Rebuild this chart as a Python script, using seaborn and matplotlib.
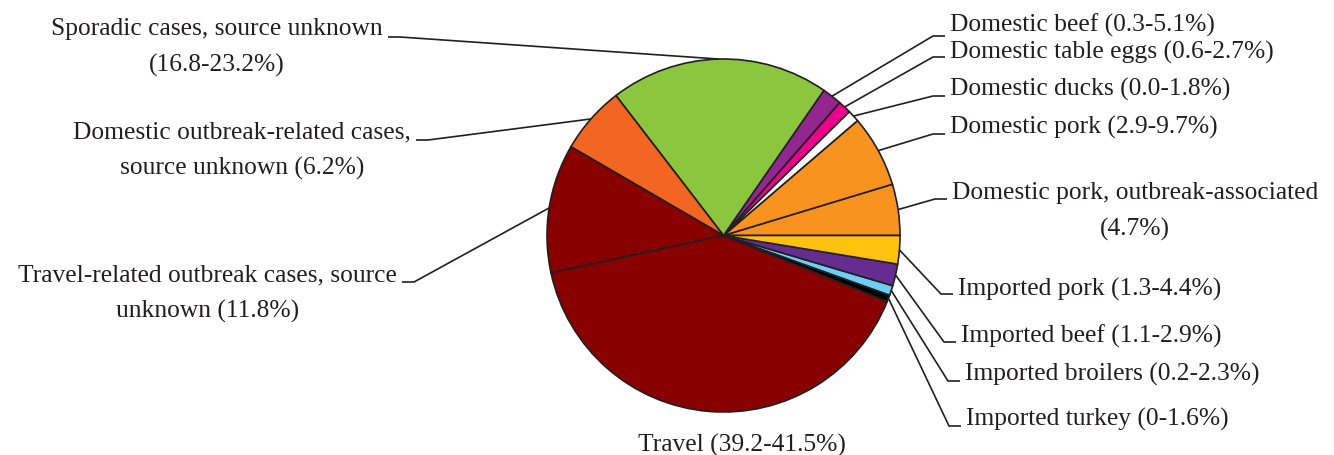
import numpy as np
import matplotlib
matplotlib.use('Agg')
import matplotlib.pyplot as plt
import seaborn as sns

# slice shares (%), counter-clockwise from 3 o'clock
sources = ['Domestic pork, outbreak-associated', 'Domestic pork', 'Domestic ducks',
           'Domestic table eggs', 'Domestic beef', 'Sporadic cases, source unknown',
           'Domestic outbreak-related cases, source unknown',
           'Travel-related outbreak cases, source unknown', 'Travel',
           'Imported turkey', 'Imported broilers', 'Imported beef', 'Imported pork']
shares = [4.7, 6.6, 1.1, 1.2, 1.8, 20.1, 6.2, 11.8, 40.6, 0.6, 0.9, 2.0, 2.6]
labels = ['Domestic pork, outbreak-associated\n(4.7%)',
          'Domestic pork (2.9-9.7%)',
          'Domestic ducks (0.0-1.8%)',
          'Domestic table eggs (0.6-2.7%)',
          'Domestic beef (0.3-5.1%)',
          'Sporadic cases, source unknown\n(16.8-23.2%)',
          'Domestic outbreak-related cases,\nsource unknown (6.2%)',
          'Travel-related outbreak cases, source\nunknown (11.8%)',
          'Travel (39.2-41.5%)',
          'Imported turkey (0-1.6%)',
          'Imported broilers (0.2-2.3%)',
          'Imported beef (1.1-2.9%)',
          'Imported pork (1.3-4.4%)']
colors = ['#F7931E', '#F7931E', '#FFFFFF', '#EC008C', '#93278F', '#8CC63F',
          '#F26522', '#880000', '#880000', '#000000', '#6DCFF6', '#662D91', '#FFC20E']

W, H = 1334, 456
CX, CY, R = 723.5, H - 236.5, 176.5

# label anchors in pixels (x, y from top), alignment
label_pos = [(952, 211.5, 'left'), (950, 127.5, 'left'), (950, 89, 'left'),
             (950, 52, 'left'), (950, 25, 'left'), (383, 47.5, 'right'),
             (411, 151, 'right'), (397, 293.5, 'right'), (741.5, 445, 'center'),
             (966, 419, 'left'), (965, 374, 'left'), (961, 336, 'left'),
             (958, 289, 'left')]
# y (from top) of the short horizontal stub of each leader line
stub_y = [200, 135, 97, 58, 37, 38, 141, 283, None, 427, 382, 343, 295]

sns.set_theme(style='white')
plt.rcParams['font.family'] = ['Liberation Serif', 'DejaVu Serif']

fig = plt.figure(figsize=(W / 100, H / 100), dpi=100)
ax = fig.add_axes([0, 0, 1, 1])

wedges, _ = ax.pie(shares, colors=colors, startangle=0, counterclock=True,
                   center=(CX, CY), radius=R,
                   wedgeprops=dict(edgecolor='#231F20', linewidth=1.2))
ax.set_xlim(0, W)
ax.set_ylim(0, H)
ax.set_aspect('equal')
ax.axis('off')

for w, lab, (tx, ty, ha), sy in zip(wedges, labels, label_pos, stub_y):
    ax.text(tx, H - ty, lab, ha=ha, va='center', multialignment='center',
            fontsize=18.4, color='#231F20', linespacing=1.75)
    if sy is None:
        continue
    mid = np.deg2rad((w.theta1 + w.theta2) / 2)
    px, py = CX + R * np.cos(mid), CY + R * np.sin(mid)
    if ha == 'left':
        xs = [px, tx - 17, tx - 5]
    else:
        xs = [px, tx + 17, tx + 5]
    ax.plot(xs, [py, H - sy, H - sy], color='#231F20', lw=1.2,
            solid_capstyle='butt')

fig.savefig('out.png', dpi=100)
